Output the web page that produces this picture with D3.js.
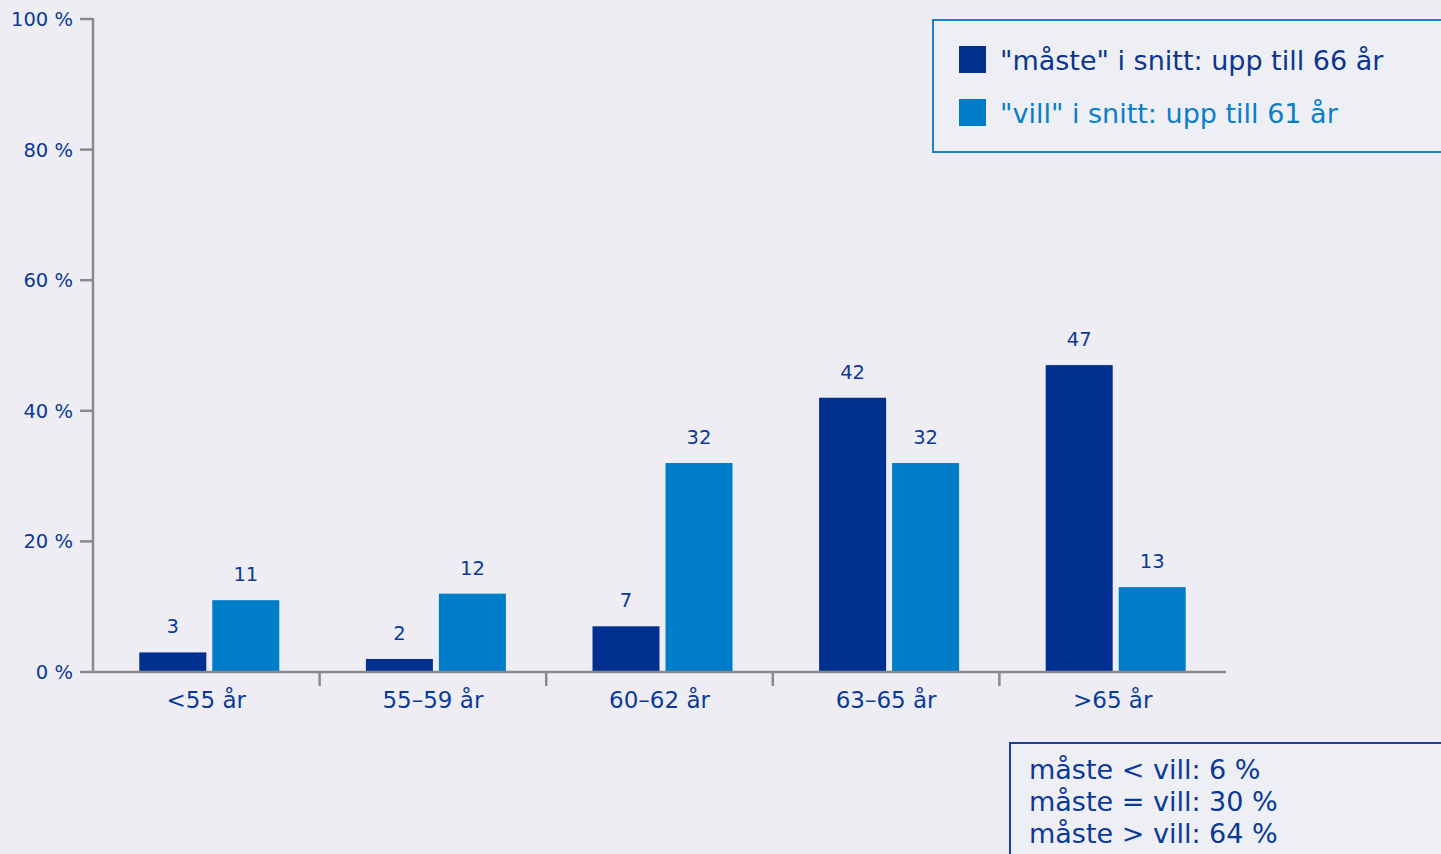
<!DOCTYPE html>
<html>
<head>
<meta charset="utf-8">
<script src="https://cdn.jsdelivr.net/npm/d3@7/dist/d3.min.js"></script>
<style>
  html, body { margin: 0; padding: 0; background: #ededf3; }
  svg { display: block; }
  text { font-family: "DejaVu Sans", Verdana, sans-serif; }
</style>
</head>
<body>
<svg id="chart" width="1441" height="854"></svg>
<script>
// Age groups and the share (%) answering for each
const categories = ["<55 år", "55–59 år", "60–62 år", "63–65 år", ">65 år"];
const seriesNames = ["måste", "vill"];
const maste = [3, 2, 7, 42, 47];
const vill = [11, 12, 32, 32, 13];
const yTicks = [0, 20, 40, 60, 80, 100];
const legendLabels = ['"måste" i snitt: upp till 66 år', '"vill" i snitt: upp till 61 år'];
const summaryLines = ["måste < vill: 6 %", "måste = vill: 30 %", "måste > vill: 64 %"];

const colors = { måste: "#00308f", vill: "#007dc8" };
const textDark = "#0b3a96";
const axisGray = "#8a8a8a";

const svg = d3.select("#chart");
const W = 1441, H = 854;
svg.append("rect").attr("width", W).attr("height", H).attr("fill", "#ededf3");

const plot = { left: 93, right: 1226, top: 19, bottom: 672 };

const x0 = d3.scaleBand().domain(categories).range([plot.left, plot.right]).paddingInner(0).paddingOuter(0);
const barW = 67, gap = 6;
const x1 = d3.scaleBand().domain(seriesNames).range([0, barW * 2 + gap]).paddingInner(gap / (barW + gap));
const groupOffset = (x0.bandwidth() - (barW * 2 + gap)) / 2 + 3;
const y = d3.scaleLinear().domain([0, 100]).range([plot.bottom, plot.top]);

// Y axis
const yAxis = svg.append("g").attr("transform", `translate(${plot.left},0)`);
yAxis.append("line").attr("x1", 0).attr("x2", 0).attr("y1", y(100) - 1).attr("y2", y(0))
  .attr("stroke", axisGray).attr("stroke-width", 2.5);
yAxis.selectAll("line.tick").data(yTicks).join("line").attr("class", "tick")
  .attr("x1", -13).attr("x2", 0).attr("y1", d => y(d)).attr("y2", d => y(d))
  .attr("stroke", axisGray).attr("stroke-width", 2.5);
yAxis.selectAll("text").data(yTicks).join("text")
  .attr("x", -20).attr("y", d => y(d)).attr("dy", "0.36em")
  .attr("text-anchor", "end").attr("fill", textDark).attr("font-size", 19.5)
  .text(d => `${d} %`);

// Bars
const data = categories.map((c, i) => ({ cat: c, values: [
  { key: "måste", v: maste[i] }, { key: "vill", v: vill[i] }
]}));

const groups = svg.append("g").selectAll("g").data(data).join("g")
  .attr("transform", d => `translate(${x0(d.cat) + groupOffset},0)`);
groups.selectAll("rect").data(d => d.values).join("rect")
  .attr("x", d => x1(d.key)).attr("width", x1.bandwidth())
  .attr("y", d => y(d.v)).attr("height", d => y(0) - y(d.v))
  .attr("fill", d => colors[d.key]);
groups.selectAll("text").data(d => d.values).join("text")
  .attr("x", d => x1(d.key) + x1.bandwidth() / 2).attr("y", d => y(d.v) - 19)
  .attr("text-anchor", "middle").attr("fill", textDark).attr("font-size", 19.5)
  .text(d => d.v);

// X axis
const xAxis = svg.append("g");
xAxis.append("line").attr("x1", plot.left).attr("x2", plot.right).attr("y1", y(0)).attr("y2", y(0))
  .attr("stroke", axisGray).attr("stroke-width", 2.5);
xAxis.selectAll("line.tick").data(categories.slice(1)).join("line").attr("class", "tick")
  .attr("x1", d => x0(d)).attr("x2", d => x0(d)).attr("y1", y(0)).attr("y2", y(0) + 14)
  .attr("stroke", axisGray).attr("stroke-width", 2.5);
xAxis.selectAll("text").data(categories).join("text")
  .attr("x", d => x0(d) + x0.bandwidth() / 2).attr("y", y(0) + 36)
  .attr("text-anchor", "middle").attr("fill", textDark).attr("font-size", 23)
  .text(d => d);

// Legend
const legend = svg.append("g");
legend.append("rect").attr("x", 933).attr("y", 20).attr("width", 520).attr("height", 132)
  .attr("fill", "#eeeff4").attr("stroke", "#1a80c8").attr("stroke-width", 2);
const legendColors = [colors["måste"], colors["vill"]];
const legendText = ["#0b3590", "#0a7ec8"];
legendLabels.forEach((lab, i) => {
  legend.append("rect").attr("x", 959).attr("y", 46 + i * 53).attr("width", 27).attr("height", 27)
    .attr("fill", legendColors[i]);
  legend.append("text").attr("x", 1000).attr("y", 70 + i * 53)
    .attr("fill", legendText[i]).attr("font-size", 27).text(lab);
});

// Summary box
const summary = svg.append("g");
summary.append("rect").attr("x", 1010).attr("y", 743).attr("width", 440).attr("height", 130)
  .attr("fill", "#eeeff4").attr("stroke", "#1f3f9a").attr("stroke-width", 2);
summary.selectAll("text").data(summaryLines).join("text")
  .attr("x", 1029).attr("y", (d, i) => 779 + i * 32)
  .attr("fill", textDark).attr("font-size", 27).text(d => d);
</script>
</body>
</html>
